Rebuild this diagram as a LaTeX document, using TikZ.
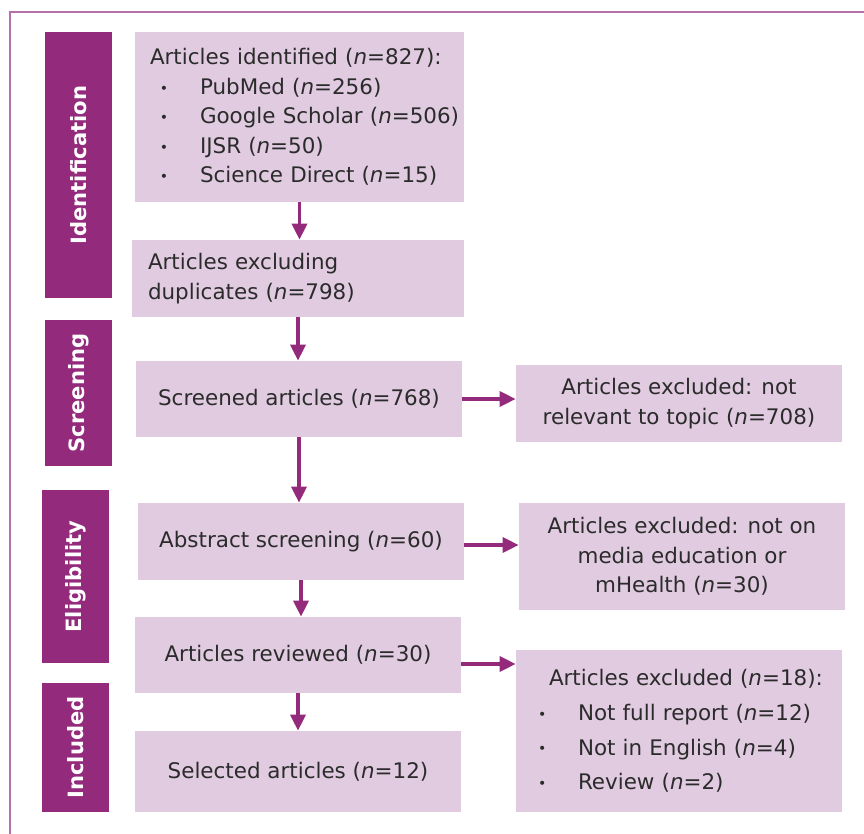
\documentclass[tikz,border=0pt]{standalone}
\usepackage{fontspec}
\setmainfont{DejaVu Sans}
\usepackage{tikz}
\usetikzlibrary{positioning}
\usetikzlibrary{arrows.meta}
\usetikzlibrary{calc}
\usepackage{xcolor}

\definecolor{prismadark}{HTML}{942A7B}
\definecolor{prismalight}{HTML}{E0CBE0}
\definecolor{prismaframe}{HTML}{B572A9}
\definecolor{prismatext}{HTML}{2B2B2B}

\newcommand{\boxfont}{\fontsize{12.2}{16.8}\selectfont}
\newcommand{\nn}[1]{(\textit{n}=#1)}
\newcommand{\bitem}[2][0.4cm]{\hspace*{#1}\makebox[0.8cm][l]{\raisebox{0.1ex}{\footnotesize\textbullet}}\mbox{#2}}

\begin{document}
\begin{tikzpicture}[
  % --- styles ---
  frame/.style={draw=prismaframe, line width=1.1pt},
  phase/.style={
    fill=prismadark, text=white, rotate=90,
    font=\fontsize{12}{14}\selectfont\bfseries,
    minimum height=1.34cm, inner sep=0pt
  },
  stage/.style={
    fill=prismalight, text=prismatext, font=\boxfont,
    align=center, minimum width=6.52cm, minimum height=1.52cm, inner sep=0pt
  },
  stagelist/.style={stage, align=left, inner ysep=0pt, inner xsep=0.1cm},
  arrow/.style={-{Triangle[length=0.32cm, width=0.30cm]}, line width=2pt, draw=prismadark}
]
\useasboundingbox (0,0) rectangle (17.28,-16.68);

% ======================================================
% Outer frame (only top and left edges show)
% ======================================================
\draw[frame] (0.2,-16.8) |- (17.4,-0.24);

% ======================================================
% Phase labels (left column)
% ======================================================
\node[phase, minimum width=5.32cm] (idn) at (1.57, -3.30) {Identification};
\node[phase, minimum width=2.92cm] (scr) at (1.57, -7.86) {Screening};
\node[phase, minimum width=3.46cm] (elg) at (1.51,-11.53) {Eligibility};
\node[phase, minimum width=2.58cm] (inc) at (1.51,-14.95) {Included};

% ======================================================
% Main flow (middle column)
% ======================================================
\node[stagelist, text width=6.38cm, minimum height=3.40cm] (ident) at (5.99, -2.34)
{\hspace*{0.2cm}Articles identified \nn{827}:\\
 \bitem{PubMed \nn{256}}\\
 \bitem{Google Scholar \nn{506}}\\
 \bitem{IJSR \nn{50}}\\
 \bitem{Science Direct \nn{15}}};
\node[stagelist, text width=6.0cm, inner xsep=0.32cm, minimum height=1.54cm] (dedup) at (5.96, -5.57)
{Articles excluding\\duplicates \nn{798}};
\node[stage] (screened) at (5.98, -7.98) {Screened articles \nn{768}};
\node[stage, minimum height=1.54cm] (abstract) at (6.02,-10.83) {Abstract screening \nn{60}};
\node[stage] (reviewed) at (5.96,-13.10) {Articles reviewed \nn{30}};
\node[stage, minimum height=1.62cm] (selected) at (5.96,-15.43) {Selected articles \nn{12}};

% ======================================================
% Exclusions (right column)
% ======================================================
\node[stage, minimum height=1.54cm] (excl1) at (13.58, -8.07)
{Articles excluded: not\\relevant to topic \nn{708}};
\node[stage, minimum height=2.14cm] (excl2) at (13.64,-11.13)
{Articles excluded: not on\\media education or\\mHealth \nn{30}};
\node[stagelist, text width=6.32cm, minimum height=3.24cm] (excl3) at (13.58,-14.62)
{\hspace*{0.56cm}Articles excluded \nn{18}:\\[3pt]
 \bitem[0.34cm]{Not full report \nn{12}}\\[3pt]
 \bitem[0.34cm]{Not in English \nn{4}}\\[3pt]
 \bitem[0.34cm]{Review \nn{2}}};

% ======================================================
% Connectors
% ======================================================
\draw[arrow] (ident.south) -- (ident.south |- dedup.north);
\draw[arrow] (dedup.south) -- (dedup.south |- screened.north);
\draw[arrow] (screened.south) -- (screened.south |- abstract.north);
\draw[arrow] (abstract.south) -- (abstract.south |- reviewed.north);
\draw[arrow] (reviewed.south) -- (reviewed.south |- selected.north);

\draw[arrow] (screened.east) -- (screened.east -| excl1.west);
\draw[arrow] ([yshift=-0.07cm]abstract.east) -- ([yshift=-0.07cm]abstract.east -| excl2.west);
\draw[arrow] ([yshift=-0.18cm]reviewed.east) -- ([yshift=-0.18cm]reviewed.east -| excl3.west);

\end{tikzpicture}
\end{document}
